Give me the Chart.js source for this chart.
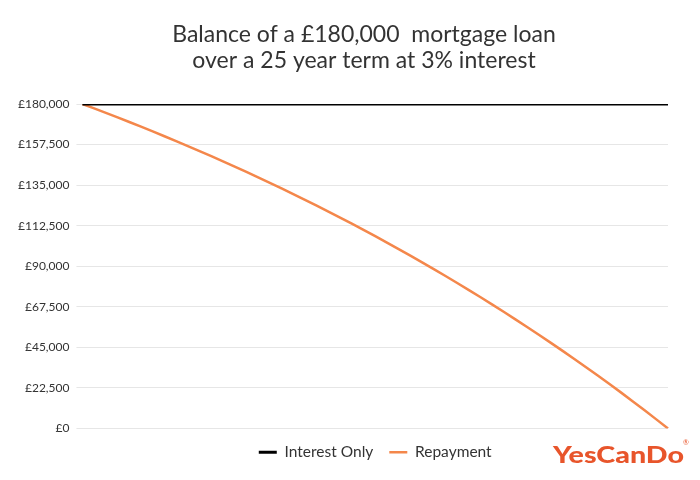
<!DOCTYPE html>
<html>
<head>
<meta charset="utf-8">
<title>Mortgage balance</title>
<script src="https://cdn.jsdelivr.net/npm/chart.js@4"></script>
<style>
  html, body { margin: 0; padding: 0; background: #fff; }
  #wrap { width: 700px; height: 480px; position: relative; }
</style>
</head>
<body>
<div id="wrap"><canvas id="balanceChart"></canvas></div>
<script>
// years of the term (x axis, not shown)
const years = ['0','1','2','3','4','5','6','7','8','9','10','11','12','13','14','15','16','17','18','19','20','21','22','23','24','25'];

// balance outstanding
const interestOnly = [180000,180000,180000,180000,180000,180000,180000,180000,180000,180000,180000,180000,180000,
                      180000,180000,180000,180000,180000,180000,180000,180000,180000,180000,180000,180000,180000];
const repayment = [180000,175100,170000,164800,159400,153900,148200,142300,136300,130000,123600,117000,110200,
                   103100,95900,88400,80700,72800,64600,56200,47500,38600,29400,19900,10100,0];

const yTicks = [0,22500,45000,67500,90000,112500,135000,157500,180000];

const titleLines = ['Balance of a £180,000  mortgage loan', 'over a 25 year term at 3% interest'];

const ink = '#333333';
const fontName = 'Lato, "Open Sans", sans-serif';

// title (a bit left of the plot centre, as in the original) and the logo
const decorPlugin = {
    id: 'decor',
    afterDraw(chart) {
        const ctx = chart.ctx;
        ctx.save();
        ctx.fillStyle = ink;
        ctx.font = '23px ' + fontName;
        ctx.textAlign = 'center';
        ctx.textBaseline = 'alphabetic';
        ctx.fillText(titleLines[0], 364, 42);
        ctx.fillText(titleLines[1], 364, 68);

        ctx.fillStyle = '#e8552b';
        ctx.font = '900 23px ' + fontName;
        ctx.textAlign = 'left';
        const w = ctx.measureText('YesCanDo').width;
        ctx.save();
        ctx.translate(553, 463);
        ctx.scale(131 / w, 1);
        ctx.fillText('YesCanDo', 0, 0);
        ctx.restore();
        ctx.font = '7px ' + fontName;
        ctx.fillText('®', 683, 445);
        ctx.restore();
    }
};

const ctx = document.getElementById('balanceChart').getContext('2d');
new Chart(ctx, {
    type: 'line',
    data: {
        labels: years,
        datasets: [{
            label: 'Interest Only',
            data: interestOnly,
            borderColor: '#000000',
            backgroundColor: '#000000',
            borderWidth: 3,
            pointRadius: 0,
            tension: 0
        }, {
            label: 'Repayment',
            data: repayment,
            borderColor: '#f4874b',
            backgroundColor: '#f4874b',
            borderWidth: 2.5,
            pointRadius: 0,
            tension: 0.3
        }]
    },
    options: {
        responsive: true,
        maintainAspectRatio: false,
        animation: false,
        layout: { padding: { left: 11, right: 32, top: 104, bottom: 10 } },
        scales: {
            x: { display: false },
            y: {
                min: 0,
                max: 180000,
                afterBuildTicks(scale) { scale.ticks = yTicks.map(v => ({ value: v })); },
                border: { display: false },
                grid: { color: '#e6e6e6', tickLength: 6, lineWidth: 1 },
                ticks: {
                    color: ink,
                    padding: 7,
                    font: { family: fontName, size: 12 },
                    callback: v => '£' + Number(v).toLocaleString('en-GB')
                }
            }
        },
        plugins: {
            title: { display: false },
            legend: {
                position: 'bottom',
                fullSize: false,
                labels: {
                    color: ink,
                    font: { family: fontName, size: 15.5 },
                    usePointStyle: true,
                    pointStyle: 'line',
                    pointStyleWidth: 18,
                    padding: 16,
                    boxHeight: 6
                }
            },
            tooltip: { enabled: false }
        }
    },
    plugins: [decorPlugin]
});
</script>
</body>
</html>
